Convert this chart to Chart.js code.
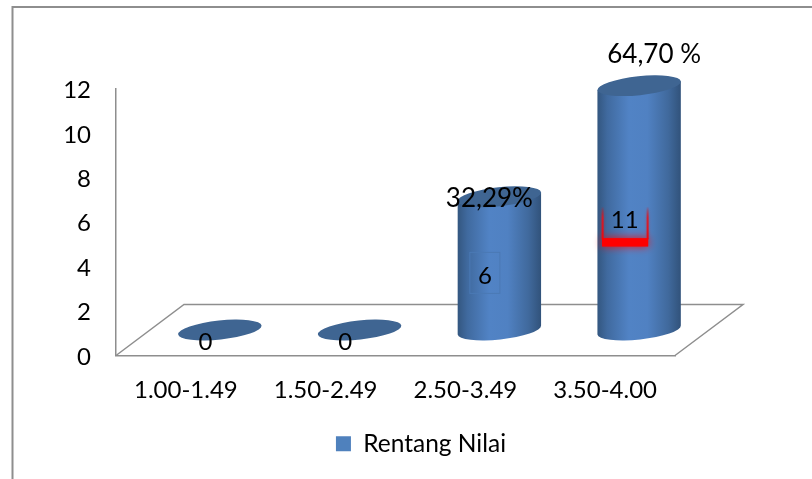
<!DOCTYPE html>
<html>
<head>
<meta charset="utf-8">
<style>
  html, body { margin: 0; padding: 0; background: #fff; overflow: hidden; }
  #wrap { position: relative; width: 812px; height: 479px; }
  canvas { display: block; }
</style>
<script src="https://cdn.jsdelivr.net/npm/chart.js@4"></script>
</head>
<body>
<div id="wrap"><canvas id="chart" width="812" height="479"></canvas></div>
<script>
const categories = ['1.00-1.49', '1.50-2.49', '2.50-3.49', '3.50-4.00'];
const seriesName = 'Rentang Nilai';
const counts = [0, 0, 6, 11];
const percentLabels = { 2: '32,29%', 3: '64,70 %' };
const yTicks = [0, 2, 4, 6, 8, 10, 12];

const FONT = 'Lato, Carlito, Calibri, sans-serif';
const LINE = '#8e8e8e';
const DEPTH_X = 68, DEPTH_Y = 51;   // floor receding direction
const TILT = -6 * Math.PI / 180;

function cylinderBody(ctx, x, top, base, rx, ry) {
  const dx = rx * Math.cos(TILT), dy = rx * Math.sin(TILT);
  const grad = ctx.createLinearGradient(x - rx, 0, x + rx, 0);
  grad.addColorStop(0, '#33567f');
  grad.addColorStop(0.12, '#406a9f');
  grad.addColorStop(0.38, '#5183c5');
  grad.addColorStop(0.6, '#5081c2');
  grad.addColorStop(0.85, '#40699c');
  grad.addColorStop(1, '#31527a');
  ctx.beginPath();
  ctx.moveTo(x - dx, top - dy);
  ctx.lineTo(x - dx, base - dy);
  ctx.ellipse(x, base, rx, ry, TILT, Math.PI, 0, true);
  ctx.lineTo(x + dx, top + dy);
  ctx.closePath();
  ctx.fillStyle = grad;
  ctx.fill();
}

const floorAndCylinders = {
  id: 'floorAndCylinders',
  beforeDatasetDraw(chart, args) {
    const { ctx, scales } = chart;
    const y = scales.y, x = scales.x;
    const left = x.left, right = x.right, bottom = y.getPixelForValue(0);
    ctx.save();

    // Floor parallelogram behind the columns
    ctx.strokeStyle = LINE;
    ctx.lineWidth = 1.5;
    ctx.beginPath();
    ctx.moveTo(left, bottom);
    ctx.lineTo(left + DEPTH_X, bottom - DEPTH_Y);
    ctx.lineTo(right + DEPTH_X, bottom - DEPTH_Y);
    ctx.lineTo(right, bottom);
    ctx.stroke();

    // Columns sit halfway into the floor depth
    args.meta.data.forEach((bar) => {
      const cx = bar.x + DEPTH_X / 2;
      const top = bar.y - DEPTH_Y / 2;
      const base = bar.base - DEPTH_Y / 2;
      const rx = bar.width / 2, ry = 9.5;
      if (base - top > 0.5) cylinderBody(ctx, cx, top, base, rx, ry);
      ctx.beginPath();
      ctx.ellipse(cx, top, rx, ry, TILT, 0, Math.PI * 2);
      ctx.fillStyle = '#3f6592';
      ctx.fill();
    });
    ctx.restore();
    return false;
  },
  afterDatasetsDraw(chart) {
    const { ctx, scales } = chart;
    const meta = chart.getDatasetMeta(0);
    ctx.save();

    // Callout boxes around the two non-zero counts
    const b6 = meta.data[2], b11 = meta.data[3];
    ctx.strokeStyle = '#4a79b4';
    ctx.lineWidth = 1;
    ctx.strokeRect(b6.x + 4.5, scales.y.getPixelForValue(3) - 36.5, 30, 41);

    const bx = b11.x - 2;
    const by = scales.y.getPixelForValue(5.5);
    // Red glow: thin sides fading upward, heavy underline
    const side = ctx.createLinearGradient(0, by - 27, 0, by + 6);
    side.addColorStop(0, 'rgba(230,0,0,0)');
    side.addColorStop(0.35, 'rgba(225,20,30,0.85)');
    side.addColorStop(1, 'rgba(230,10,20,1)');
    ctx.shadowColor = 'rgba(255,0,0,0.45)';
    ctx.shadowBlur = 3;
    ctx.fillStyle = side;
    ctx.fillRect(bx - 1.5, by - 27, 2, 33);
    ctx.fillRect(bx + 43.5, by - 27, 2, 33);
    ctx.shadowColor = 'rgba(255,0,0,0.95)';
    ctx.shadowBlur = 9;
    ctx.fillStyle = '#ff0000';
    ctx.fillRect(bx - 1, by + 5, 46, 8);
    ctx.shadowBlur = 0;
    ctx.fillRect(bx - 1, by + 5, 46, 8);

    // Count labels
    ctx.fillStyle = '#000';
    ctx.font = '24px ' + FONT;
    ctx.textAlign = 'center';
    ctx.textBaseline = 'middle';
    meta.data.forEach((bar, i) => {
      const py = scales.y.getPixelForValue(counts[i] / 2) - 13;
      ctx.fillText(String(counts[i]), bar.x + 19.5, py);
    });

    // Percentage labels above the tall columns
    ctx.font = '26px ' + FONT;
    Object.keys(percentLabels).forEach((k) => {
      const bar = meta.data[k];
      const lift = k === '3' ? 33 : 0;
      ctx.fillText(percentLabels[k], bar.x + 24 + (k === '3' ? 25 : 0), bar.y - 24 - lift);
    });
    ctx.restore();
  }
};

// Outer frame of the chart object: top and left edges only
const frame = {
  id: 'frame',
  beforeDraw(chart) {
    const { ctx } = chart;
    ctx.save();
    ctx.strokeStyle = '#8e8e8e';
    ctx.lineWidth = 2;
    ctx.beginPath();
    ctx.moveTo(12.5, 479);
    ctx.lineTo(12.5, 7);
    ctx.lineTo(812, 7);
    ctx.stroke();
    ctx.restore();
  }
};

new Chart(document.getElementById('chart'), {
  type: 'bar',
  data: {
    labels: categories,
    datasets: [{
      label: seriesName,
      data: counts,
      backgroundColor: '#4f81bd',
      borderWidth: 0,
      barPercentage: 0.6,
      categoryPercentage: 1
    }]
  },
  plugins: [frame, floorAndCylinders],
  options: {
    responsive: false,
    animation: false,
    layout: { padding: { left: 30, top: 89, right: 0, bottom: 13 } },
    plugins: {
      tooltip: { enabled: false },
      legend: {
        position: 'bottom',
        labels: {
          boxWidth: 15, boxHeight: 15, padding: 10,
          color: '#000',
          font: { family: FONT, size: 24.5 }
        }
      }
    },
    scales: {
      x: {
        grid: { display: false },
        border: { color: LINE, width: 1.5 },
        ticks: { color: '#000', padding: 12, maxRotation: 0, font: { family: FONT, size: 24 } },
        afterFit(s) { s.height = 66; }
      },
      y: {
        min: 0, max: 12,
        grid: { display: false },
        border: { color: LINE, width: 1.5 },
        afterBuildTicks(s) { s.ticks = yTicks.map((v) => ({ value: v })); },
        ticks: { color: '#000', padding: 17, labelOffset: 1.5, font: { family: FONT, size: 24 } },
        afterFit(s) { s.width = 86; }
      },
      // Blank axis that reserves the space right of the plot
      spacer: {
        position: 'right',
        display: true,
        grid: { display: false },
        border: { display: false },
        ticks: { display: false },
        afterFit(s) { s.width = 137; }
      }
    }
  }
});
</script>
</body>
</html>
